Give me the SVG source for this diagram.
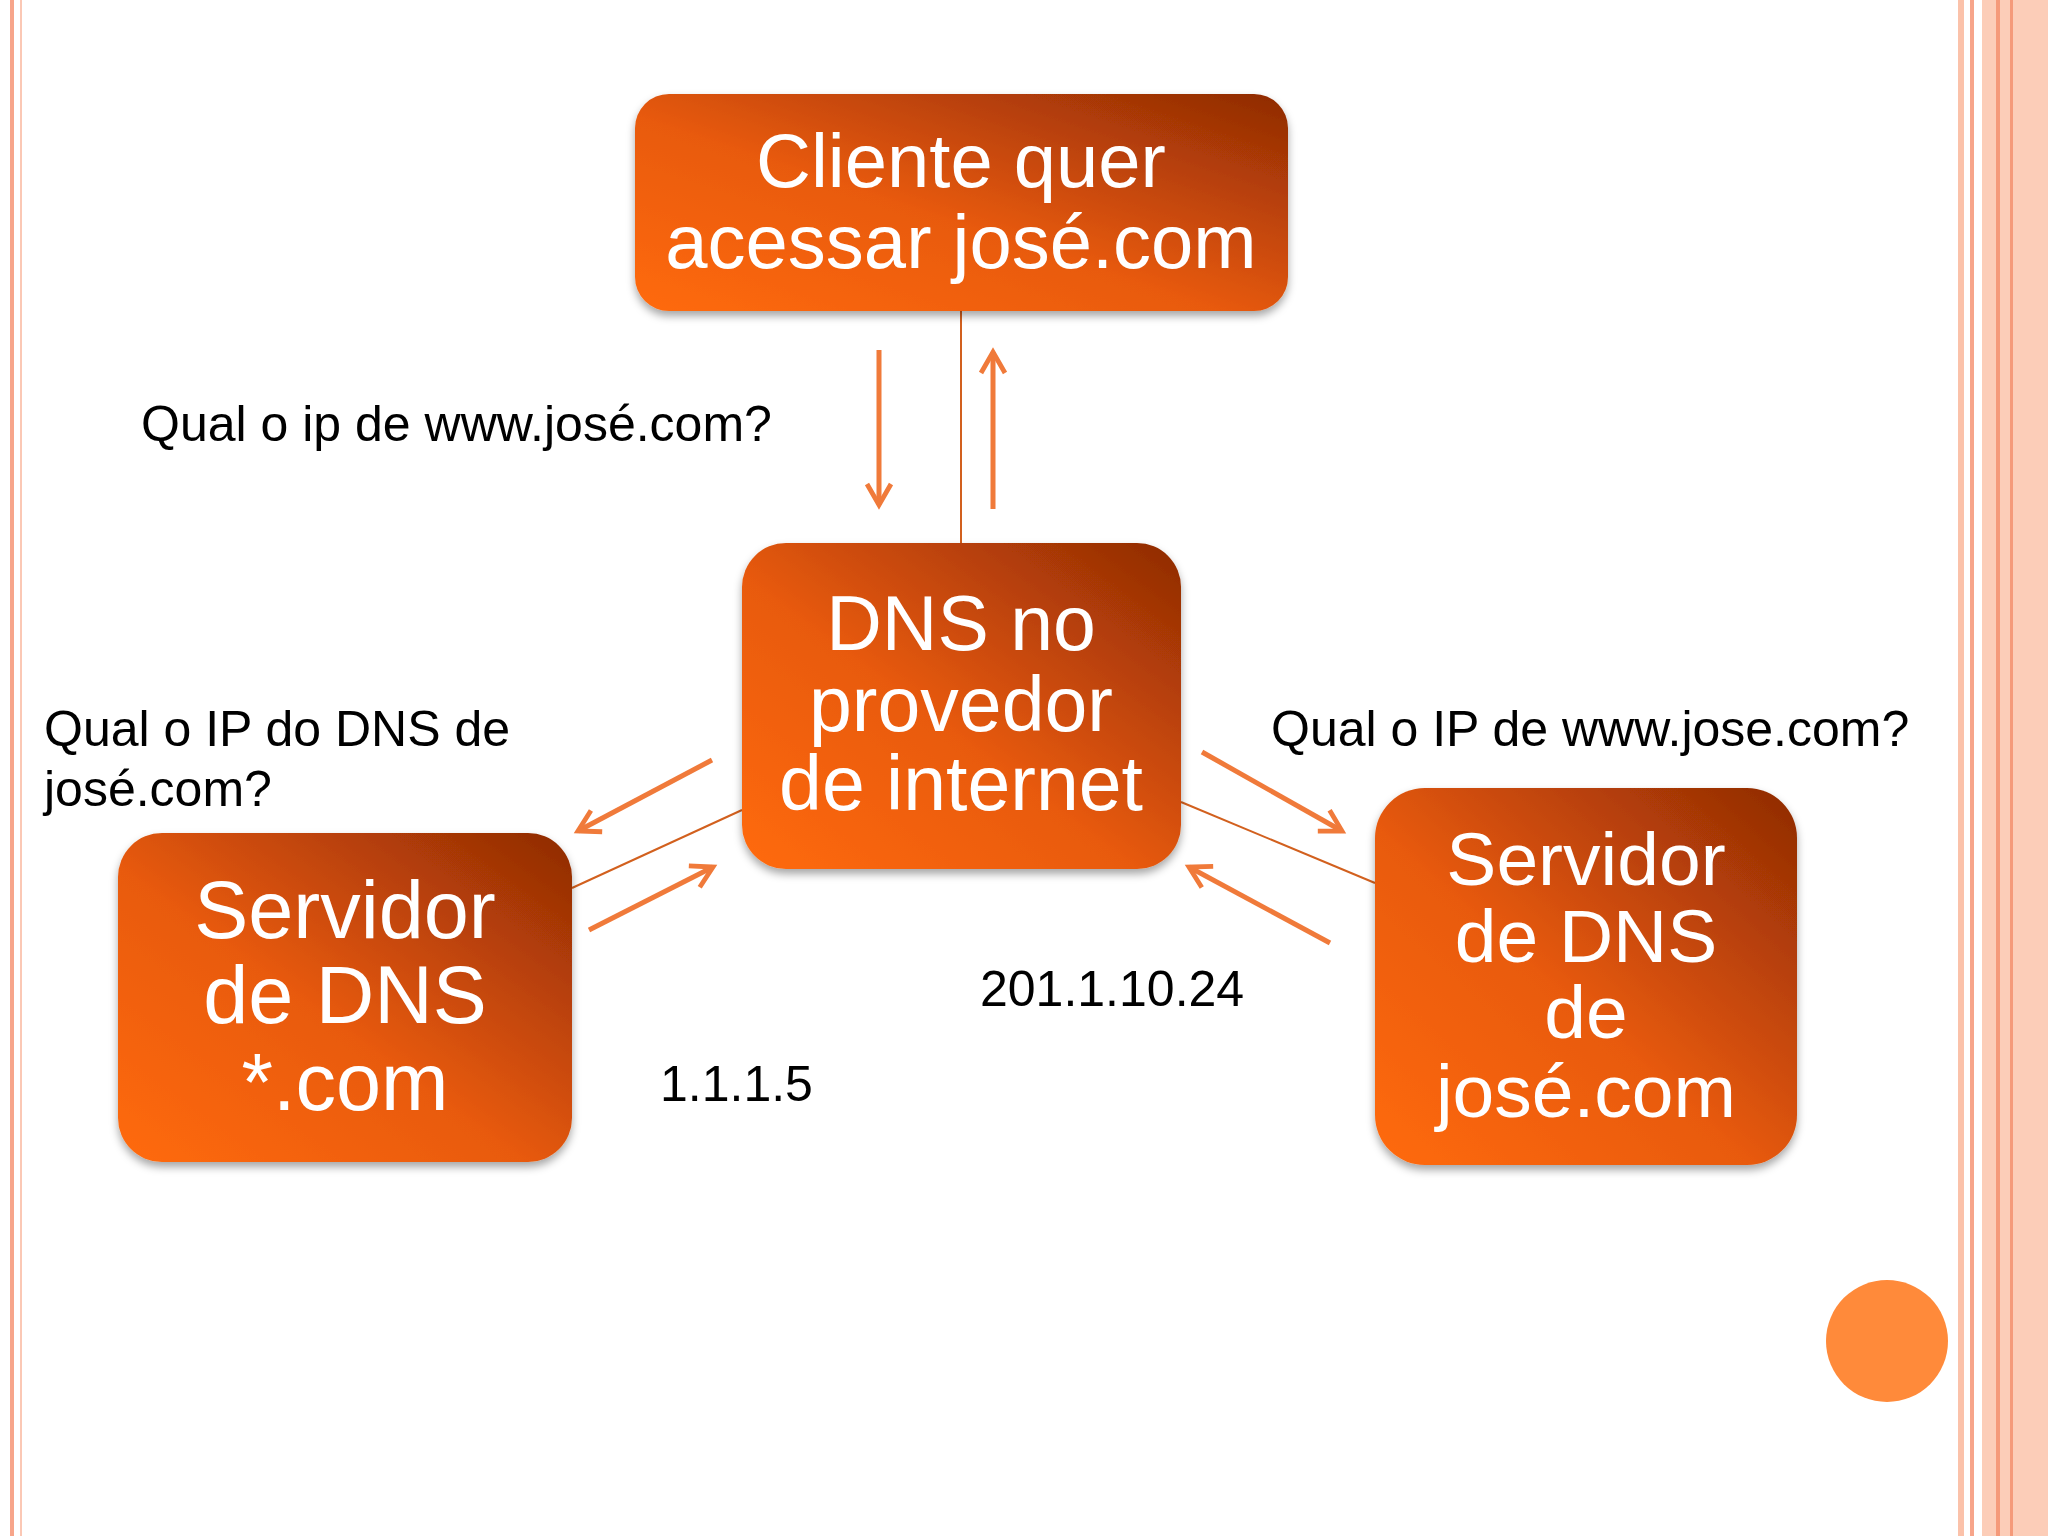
<svg xmlns="http://www.w3.org/2000/svg" width="2048" height="1536" viewBox="0 0 2048 1536">
<defs>
<linearGradient id="g" x1="0" y1="1" x2="1" y2="0">
<stop offset="0" stop-color="#FF6A0E"/><stop offset="0.45" stop-color="#E85A0C"/><stop offset="1" stop-color="#8E2A04"/>
</linearGradient>
<filter id="sh" x="-10%" y="-10%" width="120%" height="125%"><feDropShadow dx="0" dy="5" stdDeviation="4" flood-color="#000" flood-opacity="0.35"/></filter>
<marker id="ah" viewBox="0 0 10 10" refX="8" refY="5" markerWidth="6" markerHeight="6" orient="auto"><path d="M1,1 L8,5 L1,9" fill="none" stroke="#F07A3A" stroke-width="1.6"/></marker>
</defs>
<style>
.box{fill:url(#g);filter:url(#sh)}
.bt{font-family:"Liberation Sans",Arial,sans-serif;fill:#fff;text-anchor:middle}
.lb{font-family:"Liberation Sans",Arial,sans-serif;fill:#000;font-size:50px}
.ar{stroke:#F07A3A;stroke-width:5;fill:none;marker-end:url(#ah)}
.ln{stroke:#D2601E;stroke-width:2;fill:none}
</style>
<rect width="2048" height="1536" fill="#fff"/>
<g id="border">
<rect x="10" y="0" width="4" height="1536" fill="#F7A58A"/>
<rect x="20" y="0" width="2" height="1536" fill="#FBC8B5"/>
<rect x="1958" y="0" width="6" height="1536" fill="#FBC2AA"/>
<rect x="1970" y="0" width="4" height="1536" fill="#F7A58A"/>
<rect x="1982" y="0" width="66" height="1536" fill="#FCCDB8"/>
<rect x="1996" y="0" width="4" height="1536" fill="#F59A7A"/>
<rect x="2010" y="0" width="3" height="1536" fill="#F59A7A"/>
<circle cx="1887" cy="1341" r="61" fill="#FF8A3A"/>
</g>
<g id="connectors">
<line class="ln" x1="961" y1="311" x2="961" y2="543"/>
<line class="ar" x1="879" y1="350" x2="879" y2="505"/>
<line class="ar" x1="993" y1="509" x2="993" y2="352"/>
<line class="ln" x1="572" y1="888" x2="742" y2="810"/>
<line class="ar" x1="712" y1="760" x2="578" y2="831"/>
<line class="ar" x1="589" y1="930" x2="713" y2="867"/>
<line class="ln" x1="1181" y1="802" x2="1375" y2="883"/>
<line class="ar" x1="1202" y1="752" x2="1342" y2="831"/>
<line class="ar" x1="1330" y1="943" x2="1189" y2="867"/>
</g>
<g id="n-cliente"><rect class="box" x="635" y="94" width="653" height="217" rx="34"/>
<text class="bt" font-size="76" x="961" y="187">Cliente quer</text><text class="bt" font-size="76" x="961" y="268">acessar josé.com</text></g>
<g id="n-provedor"><rect class="box" x="742" y="543" width="439" height="326" rx="44"/>
<text class="bt" font-size="77" x="961" y="650">DNS no</text><text class="bt" font-size="77" x="961" y="731">provedor</text><text class="bt" font-size="77" x="961" y="810">de internet</text></g>
<g id="n-com"><rect class="box" x="118" y="833" width="454" height="329" rx="44"/>
<text class="bt" font-size="81" x="345" y="938">Servidor</text><text class="bt" font-size="81" x="345" y="1023">de DNS</text><text class="bt" font-size="81" x="345" y="1110">*.com</text></g>
<g id="n-jose"><rect class="box" x="1375" y="788" width="422" height="377" rx="50"/>
<text class="bt" font-size="75" x="1586" y="885">Servidor</text><text class="bt" font-size="75" x="1586" y="962">de DNS</text><text class="bt" font-size="75" x="1586" y="1038">de</text><text class="bt" font-size="75" x="1586" y="1117">josé.com</text></g>
<g id="labels">
<text class="lb" x="141" y="441">Qual o ip de www.josé.com?</text>
<text class="lb" x="44" y="746">Qual o IP do DNS de</text>
<text class="lb" x="44" y="806">josé.com?</text>
<text class="lb" x="1271" y="746">Qual o IP de www.jose.com?</text>
<text class="lb" x="980" y="1006">201.1.10.24</text>
<text class="lb" x="660" y="1101">1.1.1.5</text>
</g>
</svg>
